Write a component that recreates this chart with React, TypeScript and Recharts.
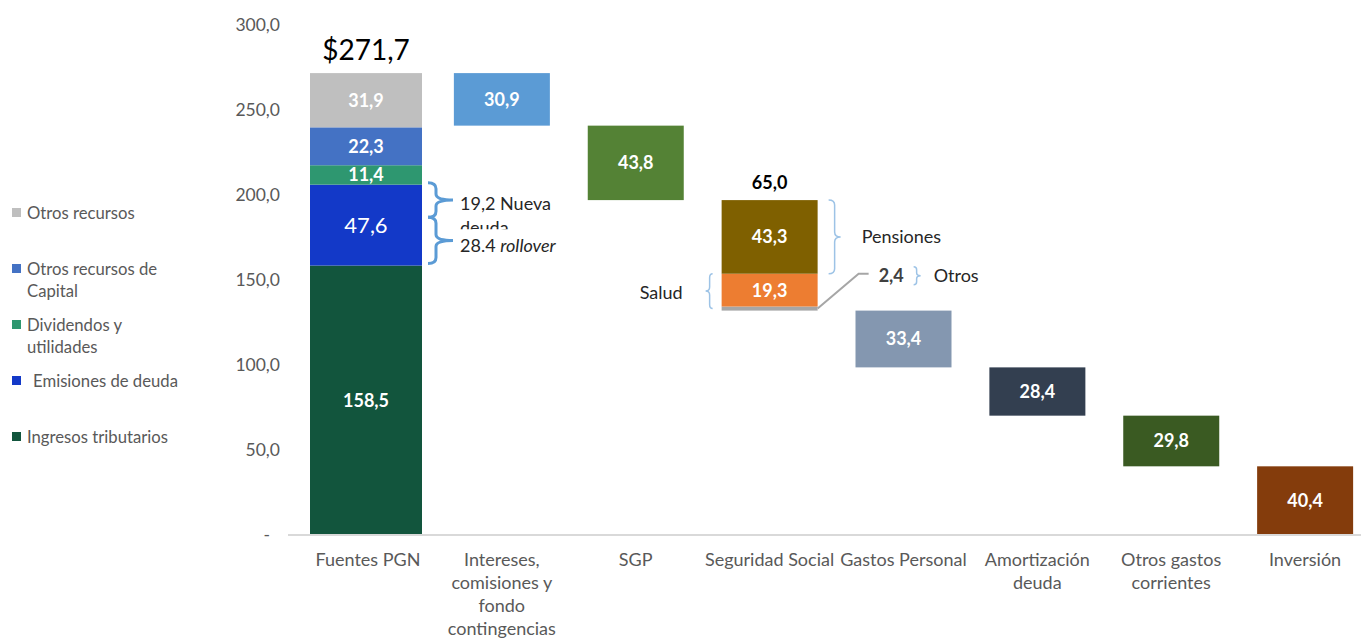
import React from "react";
import { BarChart, Bar, XAxis, YAxis } from "recharts";

// category labels, one entry per line of the tick
const categoryLines = [
  ["Fuentes PGN"],
  ["Intereses,", "comisiones y", "fondo", "contingencias"],
  ["SGP"],
  ["Seguridad Social"],
  ["Gastos Personal"],
  ["Amortización", "deuda"],
  ["Otros gastos", "corrientes"],
  ["Inversión"],
];
const categories = categoryLines.map((l) => l.join(" "));

// Fuentes PGN, bottom to top
const fuentesLabels = [
  "Ingresos tributarios",
  "Emisiones de deuda",
  ["Dividendos y", "utilidades"],
  ["Otros recursos de", "Capital"],
  "Otros recursos",
];
const fuentes = [158.5, 47.6, 11.4, 22.3, 31.9];
// one value per category after Fuentes PGN
const gastos = [30.9, 43.8, 65.0, 33.4, 28.4, 29.8, 40.4];
// Seguridad Social, bottom to top
const ssLabels = ["Otros", "Salud", "Pensiones"];
const seguridadSocial = [2.4, 19.3, 43.3];
// Emisiones de deuda split: rollover, nueva deuda
const emisiones = [28.4, 19.2];
const yTicks = [0, 50, 100, 150, 200, 250, 300];

const fuentesColors = ["#12553D", "#1339C8", "#2E9770", "#4472C4", "#BFBFBF"];
const gastoColors = ["#5B9BD5", "#548235", "#7F6000", "#8497B0", "#333F50", "#3A5A22", "#843C0C"];
const ssColors = ["#A6A6A6", "#ED7D31", "#7F6000"];

const total = fuentes.reduce((a, b) => a + b, 0);

const data = categories.map((name, i) => {
  const row: any = { name, base: 0, s0: 0, s1: 0, s2: 0, s3: 0, s4: 0 };
  if (i === 0) {
    fuentes.forEach((v, k) => (row[`s${k}`] = v));
  } else {
    const spent = gastos.slice(0, i).reduce((a, b) => a + b, 0);
    row.base = total - spent;
    if (i === 3) seguridadSocial.forEach((v, k) => (row[`s${k}`] = v));
    else row.s0 = gastos[i - 1];
  }
  return row;
});

const fmt = (v: number) => v.toFixed(1).replace(".", ",");
const ink = "#262626";
const axisGray = "#595959";

// curly brace: x = hook ends, depth = offset of the spine, tip = offset of the point
const brace = (x: number, y1: number, y2: number, depth: number, tip: number, r: number) => {
  const xs = x + depth;
  const xt = x + tip;
  const m = (y1 + y2) / 2;
  return `M${x},${y1} Q${xs},${y1} ${xs},${y1 + r} L${xs},${m - r} Q${xs},${m} ${xt},${m} M${xt},${m} Q${xs},${m} ${xs},${m + r} L${xs},${y2 - r} Q${xs},${y2} ${x},${y2}`;
};

function renderSegment(k: number) {
  return (props: any) => {
    const { x, y, width, height, payload } = props;
    const value: number = payload ? payload[`s${k}`] : 0;
    if (!value || !height) return <g />;
    const i = categories.indexOf(payload.name);
    // the sources bar is drawn a little wider than the others
    const bx = i === 0 ? x - 10 : x;
    const bw = i === 0 ? width + 16 : width;
    const right = bx + bw;
    const cx = bx + bw / 2;
    const cy = y + height / 2;
    const unit = height / value;
    const fill = i === 0 ? fuentesColors[k] : i === 3 ? ssColors[k] : gastoColors[i - 1];
    const parts: React.ReactNode[] = [
      <rect key="r" x={bx} y={y} width={bw} height={height} fill={fill} />,
    ];
    const inner = (label: string, fs = 18, weight = 700) => (
      <text key="v" x={cx} y={cy} dy="0.355em" textAnchor="middle" fill="#fff" fontSize={fs} fontWeight={weight}>
        {label}
      </text>
    );

    if (i === 0 && k === 1) {
      parts.push(inner(fmt(value), 22, 400));
      const yj = y + emisiones[1] * unit;
      const hx = right + 6;
      const top = y - 2;
      const bot = y + height - 2;
      const m1 = (top + yj) / 2;
      const m2 = (yj + bot) / 2;
      parts.push(
        <path key="b1" d={brace(hx, top, yj, 8, 25, 6)} stroke="#5B9BD5" strokeWidth={3} fill="none" />,
        <path key="b2" d={brace(hx, yj, bot, 8, 25, 6)} stroke="#5B9BD5" strokeWidth={3} fill="none" />,
        <clipPath key="cp" id="clipNueva">
          <rect x={right} y={m1 - 20} width={200} height={yj + 12 - (m1 - 20)} />
        </clipPath>,
        <text key="t1" clipPath="url(#clipNueva)" fill={ink} fontSize={18}>
          <tspan x={right + 38} y={m1 + 10}>{`${fmt(emisiones[1])} Nueva`}</tspan>
          <tspan x={right + 38} y={m1 + 34}>deuda</tspan>
        </text>,
        <text key="t2" x={right + 38} y={m2 + 12} fill={ink} fontSize={18}>
          {`${emisiones[0].toFixed(1)} `}
          <tspan fontStyle="italic">rollover</tspan>
        </text>
      );
    } else if (i === 0) {
      parts.push(inner(fmt(value)));
      if (k === fuentes.length - 1) {
        parts.push(
          <text key="tot" x={cx} y={y - 23} dy="0.355em" textAnchor="middle" fill="#000" fontSize={28}>
            {`$${fmt(total)}`}
          </text>
        );
      }
    } else if (i === 3 && k === 0) {
      const saludTop = y - seguridadSocial[1] * unit;
      const ly = saludTop + 2;
      parts.push(
        <polyline
          key="ld"
          points={`${right},${y + height / 2} ${right + 41},${saludTop} ${right + 51},${saludTop}`}
          stroke="#A6A6A6"
          strokeWidth={2}
          fill="none"
        />,
        <text key="v2" x={right + 61} y={ly} dy="0.355em" fill="#404040" fontSize={18} fontWeight={700}>
          {fmt(value)}
        </text>,
        <path key="b" d={brace(right + 96, ly - 9, ly + 9, 3, 7, 3)} stroke="#9DC3E6" strokeWidth={1.5} fill="none" />,
        <text key="l" x={right + 116} y={ly} dy="0.355em" fill={ink} fontSize={18}>
          {ssLabels[0]}
        </text>
      );
    } else if (i === 3 && k === 1) {
      parts.push(
        inner(fmt(value)),
        <path key="b" d={brace(bx - 9, y, y + height + 2, -3, -7, 4)} stroke="#9DC3E6" strokeWidth={1.5} fill="none" />,
        <text key="l" x={bx - 39} y={cy + 2} dy="0.355em" textAnchor="end" fill={ink} fontSize={18}>
          {ssLabels[1]}
        </text>
      );
    } else if (i === 3 && k === 2) {
      parts.push(
        inner(fmt(value)),
        <path key="b" d={brace(right + 11, y, y + height, 6, 12, 5)} stroke="#9DC3E6" strokeWidth={1.5} fill="none" />,
        <text key="l" x={right + 44} y={cy} dy="0.355em" fill={ink} fontSize={18}>
          {ssLabels[2]}
        </text>,
        <text key="tot" x={cx} y={y - 17} dy="0.355em" textAnchor="middle" fill="#000" fontSize={18} fontWeight={700}>
          {fmt(gastos[2])}
        </text>
      );
    } else {
      parts.push(inner(fmt(value)));
    }
    return <g>{parts}</g>;
  };
}

const XTick = (props: any) => {
  const { x, y, payload } = props;
  const idx = categories.indexOf(payload.value);
  const lines = idx >= 0 ? categoryLines[idx] : [payload.value];
  return (
    <text x={x} y={y} textAnchor="middle" fill={axisGray} fontSize={18}>
      {lines.map((l, j) => (
        <tspan key={j} x={x} y={y + 31 + j * 23}>
          {l}
        </tspan>
      ))}
    </text>
  );
};

const YTick = (props: any) => {
  const { x, y, payload } = props;
  const zero = payload.value === 0;
  return (
    <text x={zero ? x - 10 : x} y={y} dy="0.355em" textAnchor="end" fill={axisGray} fontSize={17.5}>
      {zero ? "-" : fmt(payload.value)}
    </text>
  );
};

function SideLegend() {
  const items = fuentesLabels.map((label, k) => ({ label, color: fuentesColors[k], k })).reverse();
  return (
    <div style={{ position: "absolute", left: 12, top: 0, zIndex: 2 }}>
      {items.map((it, j) => {
        const lines = Array.isArray(it.label) ? it.label : [it.label];
        return (
          <div key={j} style={{ position: "absolute", top: 202 + j * 56, left: 0, width: 200 }}>
            <div style={{ position: "absolute", left: 0, top: 6, width: 9, height: 9, background: it.color }} />
            <div
              style={{
                position: "absolute",
                left: it.k === 1 ? 21 : 15,
                top: 0,
                fontSize: 16.7,
                lineHeight: "22px",
                color: axisGray,
                whiteSpace: "nowrap",
              }}
            >
              {lines.map((l, n) => (
                <div key={n}>{l}</div>
              ))}
            </div>
          </div>
        );
      })}
    </div>
  );
}

export default function App() {
  return (
    <div
      style={{
        position: "absolute",
        left: 0,
        top: 0,
        width: 1361,
        height: 640,
        overflow: "hidden",
        background: "#fff",
        fontFamily: "Lato, sans-serif",
      }}
    >
      <SideLegend />
      <BarChart width={1400} height={640} data={data} margin={{ top: 25, right: 28, left: 228, bottom: 5 }}>
        <XAxis
          dataKey="name"
          interval={0}
          height={100}
          tickSize={0}
          tickMargin={0}
          tickLine={false}
          axisLine={{ stroke: "#D9D9D9", strokeWidth: 2 }}
          padding={{ left: 13, right: 0 }}
          tick={<XTick />}
        />
        <YAxis
          width={60}
          domain={[0, 300]}
          ticks={yTicks}
          axisLine={false}
          tickLine={false}
          tickSize={0}
          tickMargin={8}
          tick={<YTick />}
        />
        <Bar dataKey="base" stackId="w" fill="transparent" barSize={96} isAnimationActive={false} />
        {fuentes.map((_, k) => (
          <Bar
            key={k}
            dataKey={`s${k}`}
            stackId="w"
            barSize={96}
            isAnimationActive={false}
            shape={renderSegment(k)}
          />
        ))}
      </BarChart>
    </div>
  );
}
